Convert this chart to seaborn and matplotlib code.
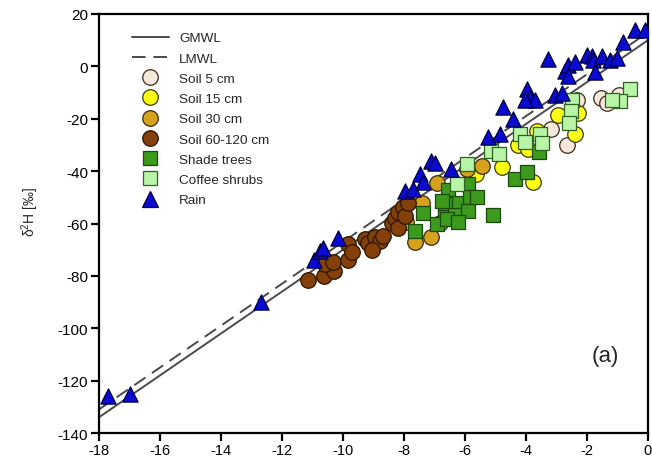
import numpy as np
import pandas as pd
import matplotlib
matplotlib.use("Agg")
import matplotlib.pyplot as plt
import seaborn as sns
from matplotlib.lines import Line2D

# d18O (x) and d2H (y) values
rain_x = [-17.7, -17.0, -12.7, -10.95, -10.75, -10.65, -10.15, -7.97, -7.7, -7.48, -7.37,
          -7.1, -6.98, -6.47, -5.24, -4.85, -4.74, -4.42, -3.98, -3.87, -3.7, -4.03,
          -3.05, -2.83, -3.27, -2.72, -2.61, -2.39, -2.61, -2.01, -1.85, -1.79, -1.74,
          -1.52, -1.25, -1.03, -0.81, -0.43, -0.1]
rain_y = [-126, -125, -90, -74, -70.5, -69.5, -65.5, -47.5, -47, -41, -44,
          -36, -37, -39, -27, -26, -15.5, -20, -8.5, -12, -13, -13,
          -11, -10, 3, -1.6, 0.4, 1.7, -3.7, 4.5, 3.8, 2.4, -2.3,
          3.8, 2.4, 3.1, 9.2, 14, 14]

soil5_x = [-2.34, -3.18, -2.64, -1.55, -1.35, -0.95]
soil5_y = [-13.0, -24.0, -30.0, -12.0, -14.0, -11.0]

soil15_x = [-2.94, -2.29, -2.39, -3.65, -4.25, -3.92, -3.76, -4.8, -5.65]
soil15_y = [-18.4, -17.8, -25.9, -24.6, -30.0, -31.4, -44.3, -38.5, -41.0]

soil30_x = [-5.94, -5.44, -6.92, -7.42, -7.95, -7.64, -7.12, -6.82]
soil30_y = [-39.0, -38.0, -44.5, -52.0, -59.6, -67.0, -65.0, -59.7]

soil60_x = [-11.15, -10.62, -10.3, -10.59, -10.32, -9.83, -9.83, -9.72, -9.28, -9.17,
            -8.95, -8.79, -8.68, -9.06, -8.4, -8.3, -8.19, -8.19, -8.02, -7.97, -7.86]
soil60_y = [-81.5, -80.0, -78.0, -75.5, -74.8, -74.1, -68.0, -70.7, -66.0, -67.3,
            -65.2, -66.6, -64.6, -70.0, -59.8, -57.8, -55.7, -61.9, -53.7, -57.1, -52.3]

shade_x = [-6.55, -5.89, -6.27, -6.66, -5.84, -7.37, -6.66, -6.33, -5.89, -5.07,
           -7.64, -6.93, -6.6, -6.22, -5.62, -6.77, -4.36, -3.98, -3.56]
shade_y = [-47.2, -45.1, -52.0, -52.7, -49.9, -56.1, -57.4, -56.7, -55.4, -56.7,
           -62.9, -60.2, -58.1, -59.5, -49.9, -51.3, -43.0, -40.5, -32.7]

coffee_x = [-2.5, -2.53, -2.58, -4.2, -4.03, -3.54, -3.49, -0.59, -0.92, -1.19,
            -5.15, -4.88, -5.94, -6.27]
coffee_y = [-13.0, -17.0, -21.5, -26.0, -28.7, -26.0, -29.4, -8.5, -13.2, -12.7,
            -32.5, -33.5, -37.2, -44.8]

# water lines: GMWL (8x + 10) and local line
line_x = [-18, 0]
gmwl_slope, gmwl_icpt = 8.0, 10.0
lmwl_slope, lmwl_icpt = 8.0, 13.0

sns.set_theme(style="white")
plt.rcParams['font.family'] = ['Liberation Sans', 'DejaVu Sans']
plt.rcParams['mathtext.default'] = 'regular'
plt.rcParams['axes.unicode_minus'] = False

fig = plt.figure(figsize=(6.52, 4.6), dpi=100)
ax = fig.add_axes([99 / 652, 26 / 460, 549 / 652, 419 / 460])

lx = np.array(line_x)
line_col = '#4a4a4a'
dash = (0, (7, 4))
ax.plot(lx, gmwl_slope * lx + gmwl_icpt, color=line_col, lw=1.4, zorder=1)
ax.plot(lx, lmwl_slope * lx + lmwl_icpt, color=line_col, lw=1.4, ls=dash, zorder=1)

groups = [
    ('Soil 5 cm', soil5_x, soil5_y, 'o', '#f6e9dc', '#3a2a1a', 125),
    ('Soil 15 cm', soil15_x, soil15_y, 'o', '#ffff14', '#3a3a10', 125),
    ('Soil 30 cm', soil30_x, soil30_y, 'o', '#d6a11c', '#3a2a08', 125),
    ('Soil 60-120 cm', soil60_x, soil60_y, 'o', '#844008', '#2a1400', 125),
    ('Shade trees', shade_x, shade_y, 's', '#3c9a1c', '#1c4a0c', 92),
    ('Coffee shrubs', coffee_x, coffee_y, 's', '#b8f5a8', '#2e6420', 92),
    ('Rain', rain_x, rain_y, '^', '#0a0ad2', '#00003c', 120),
]

for i, (lab, xs, ys, mk, fc, ec, sz) in enumerate(groups):
    df = pd.DataFrame({'x': xs, 'y': ys})
    sns.scatterplot(data=df, x='x', y='y', marker=mk, color=fc, edgecolor=ec,
                    linewidth=0.9, s=sz, ax=ax, zorder=2 + i, legend=False)

ax.set_xlim(-18, 0)
ax.set_ylim(-140, 20)
ax.set_xticks(np.arange(-18, 1, 2))
ax.set_yticks(np.arange(-140, 21, 20))
ax.set_xlabel('')
ax.set_ylabel('δ$^2$H [‰]', fontsize=10)
ax.yaxis.set_label_coords(-0.105, 0.53)
for sp in ax.spines.values():
    sp.set_color('black')
    sp.set_linewidth(1.6)
ax.tick_params(axis='both', direction='out', length=6, width=1.6,
               colors='black', bottom=True, left=True, top=False, right=False)
ax.tick_params(axis='y', labelsize=11, pad=2)
ax.tick_params(axis='x', labelsize=10.5, pad=1.5)

handles = [
    Line2D([], [], color=line_col, lw=1.4, label='GMWL'),
    Line2D([], [], color=line_col, lw=1.4, ls=dash, label='LMWL'),
]
for lab, xs, ys, mk, fc, ec, sz in groups:
    handles.append(Line2D([], [], ls='', marker=mk, markerfacecolor=fc, markeredgecolor=ec,
                          markeredgewidth=0.9, markersize=np.sqrt(sz), label=lab))
ax.legend(handles=handles, loc='upper left', bbox_to_anchor=(0.05, 0.97), frameon=False,
          fontsize=9.7, handlelength=2.75, handletextpad=0.75, labelspacing=0.58,
          borderaxespad=0)

ax.text(0.923, 0.185, '(a)', transform=ax.transAxes, fontsize=16, ha='center', va='center')

fig.savefig('out.png', dpi=100)
